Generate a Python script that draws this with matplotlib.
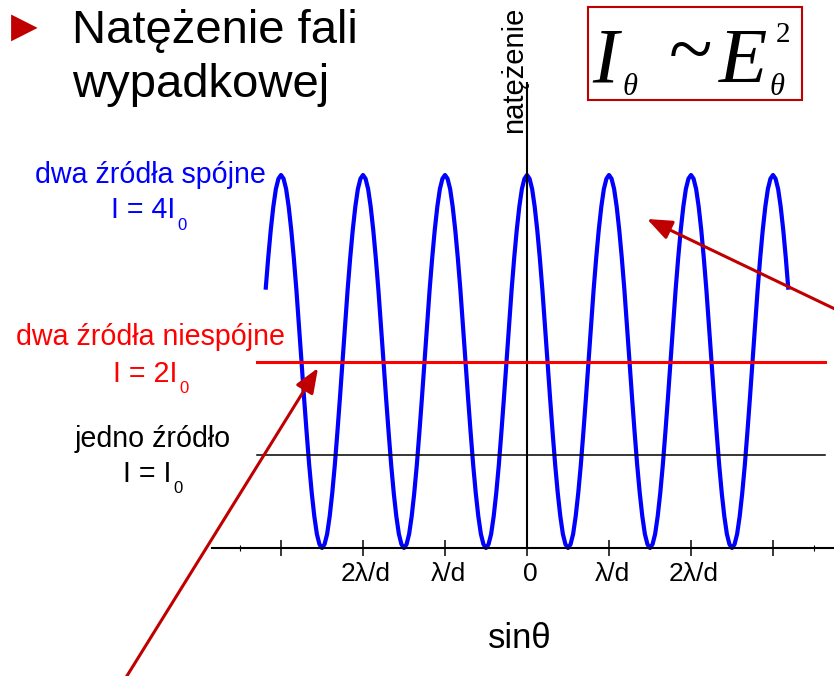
import numpy as np
import matplotlib.pyplot as plt
from matplotlib.patches import Rectangle
from matplotlib.transforms import ScaledTranslation

plt.rcParams['font.family'] = ['Liberation Sans', 'DejaVu Sans']

# sin(theta) in units of lambda/d, sampled every 1/32
x_start, x_end, x_step = -3.1875, 3.1875, 1 / 32
# intensity of two coherent sources in units of I0, one row per fringe
coherent = (
    [2.77, 3.11, 3.41, 3.66, 3.85, 3.96]
    + [4.00, 3.96, 3.85, 3.66, 3.41, 3.11, 2.77, 2.39, 2.00, 1.61, 1.24, 0.89, 0.59, 0.34, 0.15, 0.04,
       0.00, 0.04, 0.15, 0.34, 0.59, 0.89, 1.24, 1.61, 2.00, 2.39, 2.77, 3.11, 3.41, 3.66, 3.85, 3.96]
    + [4.00, 3.96, 3.85, 3.66, 3.41, 3.11, 2.77, 2.39, 2.00, 1.61, 1.24, 0.89, 0.59, 0.34, 0.15, 0.04,
       0.00, 0.04, 0.15, 0.34, 0.59, 0.89, 1.24, 1.61, 2.00, 2.39, 2.77, 3.11, 3.41, 3.66, 3.85, 3.96]
    + [4.00, 3.96, 3.85, 3.66, 3.41, 3.11, 2.77, 2.39, 2.00, 1.61, 1.24, 0.89, 0.59, 0.34, 0.15, 0.04,
       0.00, 0.04, 0.15, 0.34, 0.59, 0.89, 1.24, 1.61, 2.00, 2.39, 2.77, 3.11, 3.41, 3.66, 3.85, 3.96]
    + [4.00, 3.96, 3.85, 3.66, 3.41, 3.11, 2.77, 2.39, 2.00, 1.61, 1.24, 0.89, 0.59, 0.34, 0.15, 0.04,
       0.00, 0.04, 0.15, 0.34, 0.59, 0.89, 1.24, 1.61, 2.00, 2.39, 2.77, 3.11, 3.41, 3.66, 3.85, 3.96]
    + [4.00, 3.96, 3.85, 3.66, 3.41, 3.11, 2.77, 2.39, 2.00, 1.61, 1.24, 0.89, 0.59, 0.34, 0.15, 0.04,
       0.00, 0.04, 0.15, 0.34, 0.59, 0.89, 1.24, 1.61, 2.00, 2.39, 2.77, 3.11, 3.41, 3.66, 3.85, 3.96]
    + [4.00, 3.96, 3.85, 3.66, 3.41, 3.11, 2.77, 2.39, 2.00, 1.61, 1.24, 0.89, 0.59, 0.34, 0.15, 0.04,
       0.00, 0.04, 0.15, 0.34, 0.59, 0.89, 1.24, 1.61, 2.00, 2.39, 2.77, 3.11, 3.41, 3.66, 3.85, 3.96]
    + [4.00, 3.96, 3.85, 3.66, 3.41, 3.11, 2.77]
)
incoherent_level = 2.0
single_level = 1.0
level_span = [-3.29, 3.63]

tick_pos = [-3, -2, -1, 0, 1, 2, 3]
tick_labels = ['', '2λ/d', 'λ/d', '0', 'λ/d', '2λ/d', '']
minor_pos = [-3.5, 3.5]

W, H = 834, 676


def fx(px):
    return px / W


def fy(py):
    return 1 - py / H


fig = plt.figure(figsize=(W / 100, H / 100), dpi=100)
ax = fig.add_axes([0, 0, 1, 1])
ax.set_xlim(-527 / 82, (W - 527) / 82)
ax.set_ylim((548 - H) / 93.25, 548 / 93.25)

sin_t = np.arange(x_start, x_end + x_step / 2, x_step)
ax.plot(sin_t, coherent, color='#0000FF', lw=3, solid_capstyle='butt', zorder=2)
ax.plot(level_span, [incoherent_level] * 2, color='#FF0000', lw=2.2, zorder=3)
ax.plot(level_span, [single_level] * 2, color='black', lw=1.1, zorder=3)

for side in ('top', 'right'):
    ax.spines[side].set_visible(False)
ax.spines['left'].set_position(('data', 0))
ax.spines['bottom'].set_position(('data', 0))
ax.spines['left'].set_bounds(0, 4.99)
ax.spines['bottom'].set_bounds(-3.84, 3.8)
ax.spines['left'].set_linewidth(1.5)
ax.spines['bottom'].set_linewidth(1.5)
ax.set_yticks([])
ax.set_xticks(tick_pos)
ax.set_xticklabels(tick_labels, fontsize=19)
ax.set_xticks(minor_pos, minor=True)
ax.tick_params(axis='x', which='major', direction='inout', length=12, width=1.1, pad=4)
ax.tick_params(axis='x', which='minor', direction='inout', length=4, width=0.8)
shift = ScaledTranslation(3 / 100, 0, fig.dpi_scale_trans)
for lab in ax.get_xticklabels():
    lab.set_transform(lab.get_transform() + shift)

# labels
fig.text(fx(150), fy(183), 'dwa źródła spójne', color='#0000FF', fontsize=20.6, ha='center', va='baseline')
fig.text(fx(175), fy(218), 'I = 4I', color='#0000FF', fontsize=20.6, ha='right', va='baseline')
fig.text(fx(177), fy(230), '0', color='#0000FF', fontsize=12, va='baseline')
fig.text(fx(150), fy(345), 'dwa źródła niespójne', color='#FF0000', fontsize=20.6, ha='center', va='baseline')
fig.text(fx(177), fy(382), 'I = 2I', color='#FF0000', fontsize=20.6, ha='right', va='baseline')
fig.text(fx(179), fy(393), '0', color='#FF0000', fontsize=12, va='baseline')
fig.text(fx(153), fy(447), 'jedno źródło', color='black', fontsize=20.6, ha='center', va='baseline')
fig.text(fx(171), fy(482), 'I = I', color='black', fontsize=20.6, ha='right', va='baseline')
fig.text(fx(173), fy(493), '0', color='black', fontsize=12, va='baseline')

fig.text(fx(514), fy(70), 'natężenie', rotation=90, fontsize=21, ha='center', va='center')
fig.text(fx(520), fy(638), 'sinθ', fontsize=25, ha='center', va='center')

# title
fig.text(fx(24.5), fy(26.5), '▶', color='#C00000', fontsize=25, ha='center', va='center',
         family='DejaVu Sans')
fig.text(fx(72), fy(43), 'Natężenie fali', fontsize=34, va='baseline')
fig.text(fx(72), fy(97), 'wypadkowej', fontsize=34, va='baseline')

# formula box
fig.patches.append(Rectangle((fx(588), fy(100)), fx(802) - fx(588), fy(7) - fy(100),
                             transform=fig.transFigure, fill=False, ec='#C00000', lw=1.5))
serif = 'Liberation Serif'
fig.text(fx(592), fy(82), 'I', fontsize=56, family=serif, style='italic', va='baseline')
fig.text(fx(623), fy(95), 'θ', fontsize=22, family=serif, style='italic', va='baseline')
fig.text(fx(691), fy(57), '~', fontsize=58, family=serif, ha='center', va='center')
fig.text(fx(719), fy(82), 'E', fontsize=57, family=serif, style='italic', va='baseline')
fig.text(fx(770), fy(95), 'θ', fontsize=22, family=serif, style='italic', va='baseline')
fig.text(fx(776), fy(42), '2', fontsize=21, family=serif, va='baseline')

# arrows
arrow = dict(arrowstyle='-|>,head_length=0.75,head_width=0.3', mutation_scale=20,
             color='#C00000', lw=2.2, shrinkA=0, shrinkB=0)
ax.annotate('', xy=(fx(647), fy(219)), xytext=(fx(860), fy(321)),
            xycoords='axes fraction', textcoords='axes fraction',
            arrowprops=arrow, annotation_clip=False)
ax.annotate('', xy=(fx(318), fy(368)), xytext=(fx(112), fy(700)),
            xycoords='axes fraction', textcoords='axes fraction',
            arrowprops=arrow, annotation_clip=False)

fig.savefig('out.png', dpi=100)
